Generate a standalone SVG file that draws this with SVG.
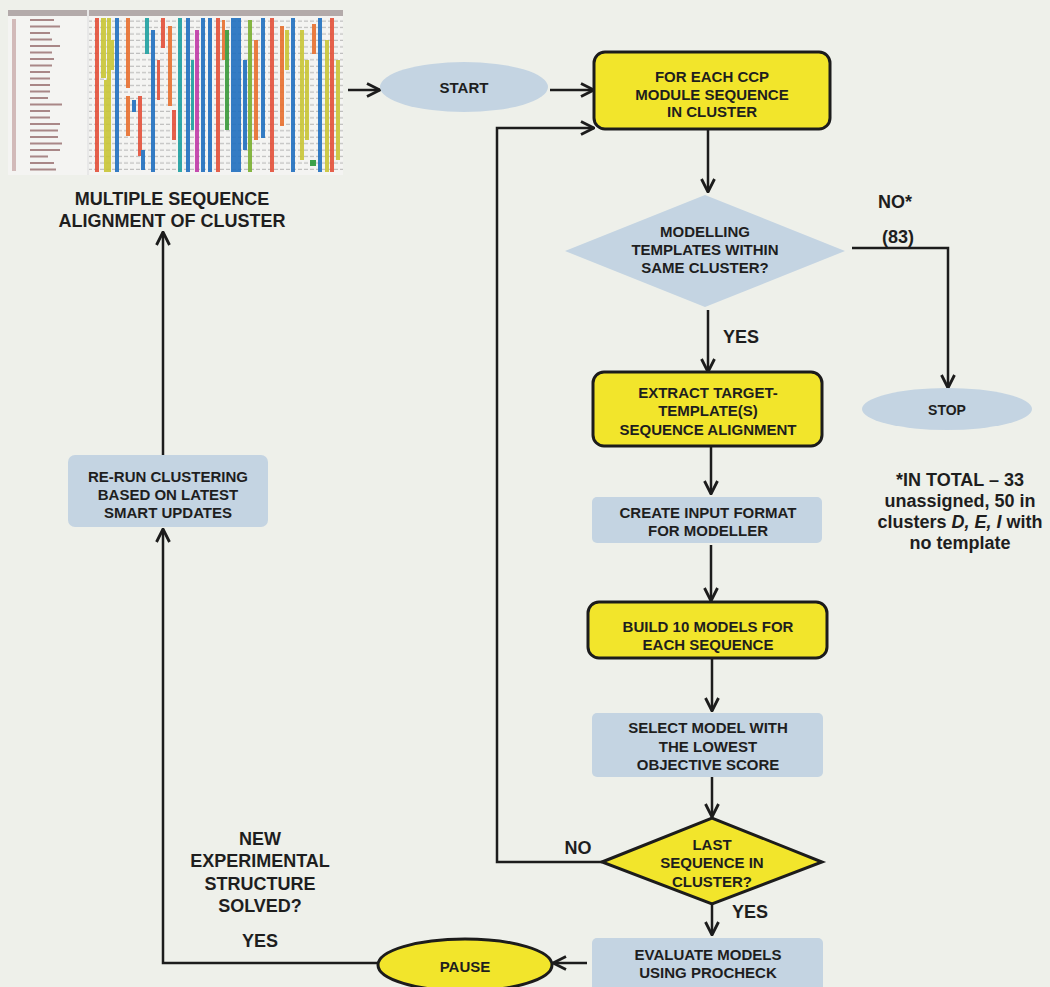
<svg xmlns="http://www.w3.org/2000/svg" width="1050" height="987" viewBox="0 0 1050 987">
<defs>
<marker id="arr" viewBox="0 0 16 16" refX="15" refY="8" markerWidth="16" markerHeight="16" markerUnits="userSpaceOnUse" orient="auto">
<path d="M2,1.5 L15,8 L2,14.5" fill="none" stroke="#1c1c1c" stroke-width="2.8" stroke-linejoin="miter"/>
</marker>
<pattern id="rows" x="88" y="18" width="6" height="6.45" patternUnits="userSpaceOnUse">
<rect x="0" y="2.5" width="4" height="1.2" fill="#9a9a9a"/>
</pattern>
</defs>
<style>
text{font-family:"Liberation Sans",Arial,sans-serif;font-weight:bold;fill:#1e1e1e;text-anchor:middle}
.t15{font-size:15px}
.t14{font-size:14px}
.t18{font-size:18px}
.yel{fill:#f2e52b;stroke:#1c1c1c;stroke-width:3}
.blu{fill:#c4d4e2}
.con{fill:none;stroke:#1c1c1c;stroke-width:2.5;marker-end:url(#arr)}
.col{opacity:0.9}
</style>
<rect width="1050" height="987" fill="#eef0ea"/>

<g id="msa">
<rect x="8" y="10" width="335" height="165" fill="#f4f4f2"/>
<rect x="8" y="10" width="335" height="6" fill="#b3aaaa"/>
<rect x="87" y="10" width="2" height="165" fill="#e8e8e8"/>
<rect x="12" y="19" width="4" height="152" fill="#b08080" opacity="0.5"/>
<g fill="#8a5a5a" opacity="0.7">
<rect x="30" y="19" width="24" height="2"/><rect x="30" y="25.5" width="30" height="2"/><rect x="30" y="32" width="20" height="2"/>
<rect x="30" y="38.5" width="22" height="2"/><rect x="30" y="45" width="30" height="2"/><rect x="30" y="51.5" width="22" height="2"/>
<rect x="30" y="58" width="24" height="2"/><rect x="30" y="64.5" width="22" height="2"/><rect x="30" y="71" width="20" height="2"/>
<rect x="30" y="77.5" width="20" height="2"/><rect x="30" y="84" width="20" height="2"/><rect x="30" y="90.5" width="20" height="2"/>
<rect x="30" y="97" width="18" height="2"/><rect x="30" y="103.5" width="32" height="2"/><rect x="30" y="110" width="20" height="2"/>
<rect x="30" y="116.5" width="20" height="2"/><rect x="30" y="123" width="30" height="2"/><rect x="30" y="129.5" width="28" height="2"/>
<rect x="30" y="136" width="28" height="2"/><rect x="30" y="142.5" width="32" height="2"/><rect x="30" y="149" width="30" height="2"/>
<rect x="30" y="155.5" width="18" height="2"/><rect x="30" y="162" width="24" height="2"/><rect x="30" y="168.5" width="26" height="2"/>
</g>
<rect x="89" y="18" width="254" height="155" fill="url(#rows)" opacity="0.6"/>
<g class="col">
<rect x="95" y="18" width="4" height="154" fill="#e4503a"/>
<rect x="101" y="18" width="5" height="60" fill="#c9c636"/>
<rect x="104" y="80" width="5" height="92" fill="#c9c636"/>
<rect x="107" y="18" width="4" height="154" fill="#c9c636"/>
<rect x="115" y="18" width="4" height="154" fill="#2070c0"/>
<rect x="126" y="18" width="4" height="70" fill="#e8702e"/>
<rect x="126" y="96" width="4" height="40" fill="#e8702e"/>
<rect x="138" y="96" width="4" height="60" fill="#e4503a"/>
<rect x="145" y="18" width="4" height="36" fill="#1ea0a0"/>
<rect x="151" y="30" width="4" height="142" fill="#2070c0"/>
<rect x="161" y="18" width="4" height="30" fill="#e4503a"/>
<rect x="168" y="26" width="4" height="80" fill="#e8702e"/>
<rect x="178" y="18" width="4" height="154" fill="#1ea0a0"/>
<rect x="186" y="18" width="4" height="154" fill="#2070c0"/>
<rect x="195" y="30" width="4" height="142" fill="#c03aa8"/>
<rect x="201" y="18" width="4" height="154" fill="#2070c0"/>
<rect x="208" y="18" width="4" height="154" fill="#2070c0"/>
<rect x="216" y="18" width="4" height="154" fill="#e4503a"/>
<rect x="225" y="30" width="4" height="100" fill="#3a9a3a"/>
<rect x="231" y="18" width="10" height="154" fill="#2070c0"/>
<rect x="248" y="20" width="4" height="152" fill="#7ab030"/>
<rect x="261" y="18" width="4" height="120" fill="#2070c0"/>
<rect x="270" y="18" width="4" height="154" fill="#e4503a"/>
<rect x="280" y="26" width="4" height="100" fill="#e8702e"/>
<rect x="291" y="18" width="4" height="154" fill="#2070c0"/>
<rect x="300" y="30" width="4" height="130" fill="#c9c636"/>
<rect x="318" y="18" width="4" height="154" fill="#2070c0"/>
<rect x="325" y="40" width="4" height="132" fill="#c9c636"/>
<rect x="330" y="18" width="4" height="154" fill="#e4503a"/>
<rect x="310" y="160" width="6" height="6" fill="#2a9a3a"/>
<rect x="111" y="40" width="3" height="30" fill="#c9c636"/>
<rect x="132" y="100" width="4" height="12" fill="#2070c0"/>
<rect x="141" y="150" width="4" height="20" fill="#2070c0"/>
<rect x="157" y="60" width="3" height="40" fill="#e4503a"/>
<rect x="172" y="110" width="4" height="30" fill="#e4503a"/>
<rect x="191" y="60" width="3" height="70" fill="#1ea0a0"/>
<rect x="222" y="20" width="3" height="40" fill="#e8702e"/>
<rect x="243" y="60" width="4" height="90" fill="#2070c0"/>
<rect x="254" y="40" width="4" height="100" fill="#e8702e"/>
<rect x="285" y="30" width="4" height="40" fill="#c9c636"/>
<rect x="305" y="60" width="4" height="80" fill="#c9c636"/>
<rect x="312" y="24" width="4" height="30" fill="#e8702e"/>
<rect x="336" y="60" width="4" height="100" fill="#c9c636"/>
</g>
<text class="t18" x="172" y="205">MULTIPLE SEQUENCE</text>
<text class="t18" x="172" y="227">ALIGNMENT OF CLUSTER</text>
</g>

<g id="connectors">
<path class="con" d="M348,90 H380"/>
<path class="con" d="M550,90 H594"/>
<path class="con" d="M602,862 H497 V128 H594"/>
<path class="con" d="M708,129 V192"/>
<path class="con" d="M708,310 V372"/>
<path class="con" d="M852,248 H948 V388"/>
<path class="con" d="M711,447 V494"/>
<path class="con" d="M711,545 V601"/>
<path class="con" d="M712,658 V711"/>
<path class="con" d="M712,777 V817"/>
<path class="con" d="M712,903 V935"/>
<path class="con" d="M587,963 H553"/>
<path class="con" d="M378,963 H163 V529"/>
<path class="con" d="M163,455 V232"/>
</g>

<g id="start">
<ellipse class="blu" cx="464" cy="87" rx="84" ry="25"/>
<text class="t15" x="464" y="93">START</text>
</g>

<g id="for-each">
<rect class="yel" x="594" y="52" width="236" height="77" rx="11"/>
<text class="t15" x="712" y="82">FOR EACH CCP</text>
<text class="t15" x="712" y="100">MODULE SEQUENCE</text>
<text class="t15" x="712" y="117">IN CLUSTER</text>
</g>

<g id="templates-decision">
<polygon class="blu" points="565,251 705,195 845,251 705,307"/>
<text class="t15" x="705" y="237">MODELLING</text>
<text class="t15" x="705" y="255">TEMPLATES WITHIN</text>
<text class="t15" x="705" y="273">SAME CLUSTER?</text>
</g>

<g id="labels-decision1">
<text class="t18" x="895" y="208">NO*</text>
<text class="t18" x="898" y="243">(83)</text>
<text class="t18" x="741" y="343">YES</text>
</g>

<g id="stop">
<ellipse class="blu" cx="947" cy="409" rx="85" ry="21"/>
<text class="t14" x="947" y="415">STOP</text>
</g>

<g id="footnote">
<text class="t18" x="960" y="486">*IN TOTAL – 33</text>
<text class="t18" x="960" y="507">unassigned, 50 in</text>
<text class="t18" x="960" y="528">clusters <tspan font-style="italic">D, E, I</tspan> with</text>
<text class="t18" x="960" y="549">no template</text>
</g>

<g id="extract">
<rect class="yel" x="593" y="372" width="229" height="74" rx="11"/>
<text class="t15" x="708" y="398">EXTRACT TARGET-</text>
<text class="t15" x="708" y="416">TEMPLATE(S)</text>
<text class="t15" x="708" y="435">SEQUENCE ALIGNMENT</text>
</g>

<g id="create-input">
<rect class="blu" x="592" y="497" width="230" height="46" rx="5"/>
<text class="t15" x="708" y="518">CREATE INPUT FORMAT</text>
<text class="t15" x="708" y="536">FOR MODELLER</text>
</g>

<g id="build-models">
<rect class="yel" x="588" y="602" width="239" height="56" rx="11"/>
<text class="t15" x="708" y="632">BUILD 10 MODELS FOR</text>
<text class="t15" x="708" y="650">EACH SEQUENCE</text>
</g>

<g id="select-model">
<rect class="blu" x="592" y="713" width="231" height="64" rx="5"/>
<text class="t15" x="708" y="733">SELECT MODEL WITH</text>
<text class="t15" x="708" y="752">THE LOWEST</text>
<text class="t15" x="708" y="770">OBJECTIVE SCORE</text>
</g>

<g id="last-decision">
<polygon class="yel" points="602,862 712,818 822,862 712,904"/>
<text class="t15" x="712" y="850">LAST</text>
<text class="t15" x="712" y="868">SEQUENCE IN</text>
<text class="t15" x="712" y="887">CLUSTER?</text>
</g>

<g id="labels-decision2">
<text class="t18" x="578" y="854">NO</text>
<text class="t18" x="750" y="918">YES</text>
</g>

<g id="evaluate">
<rect class="blu" x="592" y="938" width="231" height="60" rx="5"/>
<text class="t15" x="708" y="960">EVALUATE MODELS</text>
<text class="t15" x="708" y="978">USING PROCHECK</text>
</g>

<g id="pause">
<ellipse class="yel" cx="465" cy="965" rx="87" ry="26"/>
<text class="t15" x="465" y="972">PAUSE</text>
</g>

<g id="new-structure">
<text class="t18" x="260" y="845">NEW</text>
<text class="t18" x="260" y="867">EXPERIMENTAL</text>
<text class="t18" x="260" y="890">STRUCTURE</text>
<text class="t18" x="260" y="912">SOLVED?</text>
<text class="t18" x="260" y="947">YES</text>
</g>

<g id="rerun">
<rect class="blu" x="68" y="455" width="200" height="72" rx="7"/>
<text class="t15" x="168" y="482">RE-RUN CLUSTERING</text>
<text class="t15" x="168" y="500">BASED ON LATEST</text>
<text class="t15" x="168" y="518">SMART UPDATES</text>
</g>
</svg>
